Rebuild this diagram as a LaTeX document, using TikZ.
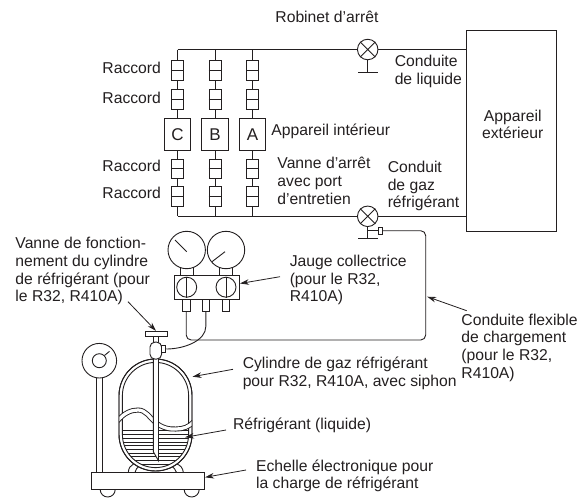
\documentclass[tikz,border=0pt]{standalone}
\usepackage{fontspec}
\setmainfont{Liberation Sans}
\usetikzlibrary{arrows.meta}
\definecolor{ink}{HTML}{231F20}
\tikzset{
  lbl/.style={anchor=north west,inner sep=0pt,align=left,text=ink,font=\fontsize{15.7}{17.7}\selectfont},
  clbl/.style={anchor=center,inner sep=0pt,align=center,text=ink,font=\fontsize{15.7}{16.8}\selectfont},
  coupling/.style={draw,fill=white,rectangle,inner sep=0pt,minimum width=12pt,minimum height=20pt},
  unitbox/.style={draw,fill=white,rectangle,inner sep=0pt,minimum width=26.5pt,minimum height=32.3pt,text=ink,font=\fontsize{17}{19}\selectfont},
  valve/.style={draw,fill=white,circle,inner sep=0pt,minimum size=20.5pt},
  gauge/.style={draw,fill=white,circle,inner sep=0pt,minimum size=37.4pt},
  knob/.style={draw,fill=white,circle,inner sep=0pt,minimum size=20pt},
  fitting/.style={draw,fill=white,rectangle,inner sep=0pt,minimum width=7.6pt,minimum height=12pt},
  neck/.style={draw,fill=white,rectangle,inner sep=0pt,minimum width=13pt,minimum height=8pt},
  leader/.style={-{Stealth[length=9pt,width=5.6pt]},line width=0.8pt},
}
\begin{document}
\begin{tikzpicture}[x=1pt,y=-1pt,color=ink,line width=0.9pt]
\useasboundingbox (0,0) rectangle (588,498);
% outdoor unit and main lines
\node[draw,rectangle,inner sep=0pt,minimum width=89.3pt,minimum height=200.7pt] (out) at (511.3,130.7) {};
\node[clbl] (outl) at (512.7,124.5) {Appareil\\extérieur};
\node[valve] (v1) at (367.7,49.5) {};
\node[valve] (v2) at (367.7,216.3) {};
\coordinate (tl) at (177.5,49.5);
\coordinate (bl) at (177.5,216.3);
\coordinate (to) at (466.7,49.5);
\coordinate (bo) at (466.7,216.3);
\draw (tl) -- (v1.west) (v1.east) -- (to);
\draw (bl) -- (v2.west) (v2.east) -- (bo);
\foreach \v in {v1,v2}{\draw (\v.north west) -- (\v.south east) (\v.north east) -- (\v.south west);}
% valve stems
\coordinate (s1) at (367.7,72.6);
\coordinate (s2) at (367.7,238.8);
\coordinate (s1a) at (358,72.6);
\coordinate (s1b) at (378,72.6);
\coordinate (s2a) at (358,238.8);
\coordinate (s2b) at (378,238.8);
\draw (v1.south) -- (s1) (s1a) -- (s1b);
\draw (v2.south) -- (s2) (s2a) -- (s2b);
\node[draw,fill=white,rectangle,inner sep=0pt,minimum width=4pt,minimum height=7pt] (vport) at (380.2,230.7) {};
\coordinate (vs) at (367.7,230.7);
\draw (vs) -- (vport.west);
% branches
\foreach \n/\x/\t in {c/177.5/C,b/215/B,a/252.5/A}{
  \coordinate (\n top) at (\x,49.5);
  \coordinate (\n bot) at (\x,216.3);
  \node[coupling] (\n1) at (\x,70.7) {};
  \node[coupling] (\n2) at (\x,99) {};
  \node[unitbox] (\n u) at (\x,134.2) {\t};
  \node[coupling,minimum height=19pt] (\n3) at (\x,168.7) {};
  \node[coupling,minimum height=20.5pt] (\n4) at (\x,196.3) {};
  \draw (\n top) -- (\n1.north) (\n1.south) -- (\n2.north) (\n2.south) -- (\n u.north)
        (\n u.south) -- (\n3.north) (\n3.south) -- (\n4.north) (\n4.south) -- (\n bot);
  \foreach \k in {1,2,3,4}{\draw (\n\k.west) -- (\n\k.east);}
}
% manifold gauge
\node[neck] (n1) at (186.7,271.5) {};
\node[neck] (n2) at (226,271.5) {};
\node[gauge] (g1) at (186.7,250) {};
\node[gauge] (g2) at (226,250) {};
\coordinate (g1n) at (175,240);
\coordinate (g2n) at (212,261.7);
\coordinate (g2c) at (225,251.7);
\coordinate (g1c) at (186.7,251.7);
\draw (g1n) -- (g1c) (g2n) -- (g2c);
\node[draw,fill=white,rectangle,inner sep=0pt,minimum width=65.3pt,minimum height=23.7pt] (block) at (206.7,287.2) {};
\node[knob] (k1) at (186.7,287.2) {};
\node[knob] (k2) at (226,287.2) {};
\draw (k1.north) -- (k1.south) (k2.north) -- (k2.south);
\node[fitting] (fl) at (186.2,305.2) {};
\node[fitting] (fm) at (205.8,305.2) {};
\node[fitting] (fr) at (226,305.2) {};
% hose
\coordinate (hb) at (425.7,340);
\draw[rounded corners=5pt] (fl.south) |- (hb) |- (vport.east);
% scale
\node[draw,fill=white,circle,inner sep=0pt,minimum size=15pt] (wl) at (107.7,489.5) {};
\node[draw,fill=white,circle,inner sep=0pt,minimum size=15pt] (wr) at (191.7,489.5) {};
\node[draw,fill=white,rectangle,inner sep=0pt,minimum width=6.7pt,minimum height=96pt] (pole) at (99.3,425) {};
\node[draw,fill=white,circle,inner sep=0pt,minimum size=34.6pt] (dial) at (99.3,360.7) {};
\node[draw,fill=white,circle,inner sep=0pt,minimum size=14pt] (dial2) at (99.3,360.7) {};
\coordinate (dn) at (109.5,351.3);
\draw (dial2.north east) -- (dn);
% feet
\draw (128.3,472.5) .. controls (128.5,468) and (130.5,465.5) .. (133.5,464);
\draw (135,472.5) .. controls (135.5,470) and (137,467.5) .. (139,466);
\draw (183.3,472.5) .. controls (183,468) and (180.5,465.5) .. (177,464);
\draw (176.5,472.5) .. controls (176,470) and (174,468) .. (171.7,466);
\node[draw,fill=white,rectangle,inner sep=0pt,minimum width=112.6pt,minimum height=17pt] (plat) at (148,480.8) {};
% cylinder
\def\outerpath{(119,359) [rounded corners=36.5pt] rectangle (192,471)}
\def\innerpath{(122.4,362.4) [rounded corners=33.2pt] rectangle (188.6,467.6)}
\fill[white] \outerpath;
\begin{scope}
  \clip \innerpath;
  \foreach \y in {430.8,434.5,438.2,441.9,445.6,449.3,453,456.7,460.4,464.1}{
    \draw[line width=0.8pt] (119,\y) -- (192,\y);
  }
\end{scope}
\draw \outerpath;
\draw \innerpath;
\begin{scope}
  \clip \outerpath;
  \def\wavepath{(117,421.5) .. controls (124,413) and (131,410) .. (138,410) .. controls (146,410) and (150,418) .. (155,422) .. controls (162,428) and (170,429.5) .. (176,429) .. controls (183,429) and (189,427) .. (194,421.5)}
  \draw[line width=5pt] \wavepath;
  \draw[line width=3.2pt,draw=white] \wavepath;
\end{scope}
\draw \outerpath;
% siphon pipe
\coordinate (p1) at (153.3,345);
\coordinate (p2) at (153.3,451.7);
\coordinate (p3) at (158.5,460.7);
\coordinate (p4) at (158.5,345);
\filldraw[fill=white] (p1) -- (p2) -- (p3) -- (p4) -- cycle;
% cylinder valve
\node[draw,fill=white,rectangle,inner sep=0pt,minimum width=22pt,minimum height=5.4pt] (handle) at (156,334) {};
\node[draw,fill=white,rectangle,inner sep=0pt,minimum width=4.6pt,minimum height=5.6pt] (stem) at (155.8,339.5) {};
\node[draw,fill=white,rectangle,rounded corners=5pt,inner sep=0pt,minimum width=11.7pt,minimum height=17pt] (body) at (155.8,350.6) {};
\node[draw,fill=white,rectangle,inner sep=0pt,minimum width=4pt,minimum height=6.6pt] (port) at (163.8,349) {};
\draw (fm.south) -- ++(0,15) .. controls +(0,14) and +(18,0) .. (port.east);
% labels
\node[lbl] (t1) at (275,11) {Robinet d’arrêt};
\node[lbl] (t2) at (102,62) {Raccord};
\node[lbl] (t3) at (102,91.5) {Raccord};
\node[lbl] (t4) at (102,160) {Raccord};
\node[lbl] (t5) at (102,186.5) {Raccord};
\node[lbl] (t6) at (271,123) {Appareil intérieur};
\node[lbl] (t7) at (277,157) {Vanne d’arrêt\\avec port\\d’entretien};
\node[lbl] (t8) at (394.3,54.5) {Conduite\\de liquide};
\node[lbl] (t9) at (387.3,160.5) {Conduit\\de gaz\\réfrigérant};
\node[lbl] (t10) at (15,237) {Vanne de fonction-\\nement du cylindre\\de réfrigérant (pour\\le R32, R410A)};
\node[lbl] (t11) at (289.3,254.7) {Jauge collectrice\\(pour le R32,\\R410A)};
\node[lbl] (t12) at (461,313.3) {Conduite flexible\\de chargement\\(pour le R32,\\R410A)};
\node[lbl] (t13) at (242.3,356.5) {Cylindre de gaz réfrigérant\\pour R32, R410A, avec siphon};
\node[lbl] (t14) at (232.7,417) {Réfrigérant (liquide)};
\node[lbl] (t15) at (255.7,459) {Echelle électronique pour\\la charge de réfrigérant};
% leaders
\coordinate (a1s) at (128,301.7);
\draw[leader] (a1s) -- (handle.north);
\coordinate (a2s) at (280,276.7);
\coordinate (a2e) at (240,283.5);
\draw[leader] (a2s) -- (a2e);
\coordinate (a3s) at (466.7,310.7);
\coordinate (a3e) at (427.2,296.7);
\draw[leader] (a3s) -- (a3e);
\coordinate (a4s) at (233,369.3);
\coordinate (a4e) at (192.5,376.7);
\draw[leader] (a4s) -- (a4e);
\coordinate (a5s) at (226,430);
\coordinate (a5e) at (185,437.3);
\draw[leader] (a5s) -- (a5e);
\coordinate (a6s) at (246,470);
\coordinate (a6e) at (205,477.3);
\draw[leader] (a6s) -- (a6e);
\end{tikzpicture}
\end{document}
